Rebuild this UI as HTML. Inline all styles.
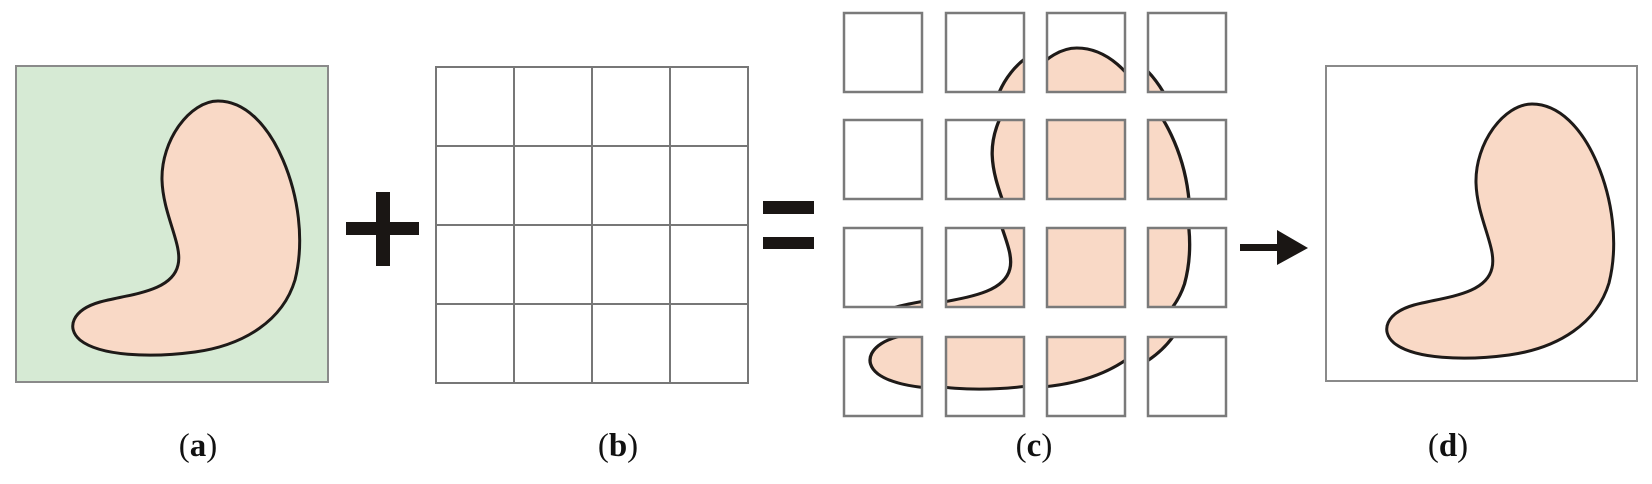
<!DOCTYPE html>
<html><head><meta charset="utf-8"><style>
html,body{margin:0;padding:0;background:#fff;}
svg{display:block}
text{font-family:"Liberation Serif",serif;font-size:33px;fill:#111}
</style></head><body>
<svg width="1652" height="484" viewBox="0 0 1652 484" xmlns="http://www.w3.org/2000/svg">
<defs>
<path id="k" d="M218,101 C245,101 268,125 283,160 C298,195 305,240 295,280 C283,320 245,345 195,352 C150,358 100,356 80,340 C66,328 72,310 100,302 C130,294 172,292 178,265 C183,245 163,215 162,180 C161,140 190,101 218,101 Z"/>
</defs>
<!-- (a) -->
<rect x="16" y="66" width="312" height="316" fill="#d6ead4" stroke="#8a8a8a" stroke-width="2"/>
<use href="#k" fill="#f9d9c6" stroke="#1e1a18" stroke-width="3"/>
<!-- plus -->
<rect x="346" y="222" width="73" height="13" fill="#1a1614"/>
<rect x="376" y="192" width="14" height="74" fill="#1a1614"/>
<!-- (b) grid -->
<g stroke="#777" stroke-width="2" fill="none">
<rect x="436" y="67" width="312" height="316"/>
<line x1="514" y1="67" x2="514" y2="383"/><line x1="592" y1="67" x2="592" y2="383"/><line x1="670" y1="67" x2="670" y2="383"/>
<line x1="436" y1="146" x2="748" y2="146"/><line x1="436" y1="225" x2="748" y2="225"/><line x1="436" y1="304" x2="748" y2="304"/>
</g>
<!-- equals -->
<rect x="763" y="201" width="51" height="13" fill="#1a1614"/>
<rect x="763" y="237" width="51" height="12" fill="#1a1614"/>
<g id="tiles"></g>
<script>
(function(){
var ns="http://www.w3.org/2000/svg",g=document.getElementById('tiles'),defs=document.querySelector('defs');
var xs=[844,946,1047,1148],ys=[13,120,228,337];
for(var j=0;j<4;j++)for(var i=0;i<4;i++){
 var x=xs[i],y=ys[j],id='cl'+i+'_'+j;
 var cp=document.createElementNS(ns,'clipPath');cp.setAttribute('id',id);
 var r=document.createElementNS(ns,'rect');r.setAttribute('x',x);r.setAttribute('y',y);r.setAttribute('width',78);r.setAttribute('height',79);
 cp.appendChild(r);defs.appendChild(cp);
 var bg=document.createElementNS(ns,'rect');bg.setAttribute('x',x);bg.setAttribute('y',y);bg.setAttribute('width',78);bg.setAttribute('height',79);bg.setAttribute('fill','#fff');g.appendChild(bg);
 var gg=document.createElementNS(ns,'g');gg.setAttribute('clip-path','url(#'+id+')');
 var u=document.createElementNS(ns,'use');u.setAttribute('href','#k');
 var tx=x-16-78*i-22, ty=y-66-79*j;
 u.setAttribute('transform','translate('+tx+','+ty+') translate(160,0) scale(1.1,1) translate(-160,0)');
 u.setAttribute('fill','#f9d9c6');u.setAttribute('stroke','#1e1a18');u.setAttribute('stroke-width','3');
 gg.appendChild(u);g.appendChild(gg);
 var b=document.createElementNS(ns,'rect');b.setAttribute('x',x);b.setAttribute('y',y);b.setAttribute('width',78);b.setAttribute('height',79);
 b.setAttribute('fill','none');b.setAttribute('stroke','#7a7a7a');b.setAttribute('stroke-width','2.5');g.appendChild(b);
}
})();
</script>
<!-- arrow -->
<rect x="1240" y="244" width="40" height="7" fill="#1a1614"/>
<polygon points="1277,230 1308,248 1277,265" fill="#1a1614"/>
<!-- (d) -->
<rect x="1326" y="66" width="311" height="315" fill="#fff" stroke="#8a8a8a" stroke-width="2"/>
<use href="#k" transform="translate(1314,3)" fill="#f9d9c6" stroke="#1e1a18" stroke-width="3"/>
<!-- labels -->
<text x="198" y="456" text-anchor="middle">(<tspan font-weight="bold">a</tspan>)</text>
<text x="618" y="456" text-anchor="middle">(<tspan font-weight="bold">b</tspan>)</text>
<text x="1034" y="456" text-anchor="middle">(<tspan font-weight="bold">c</tspan>)</text>
<text x="1448" y="456" text-anchor="middle">(<tspan font-weight="bold">d</tspan>)</text>
</svg>
</body></html>
